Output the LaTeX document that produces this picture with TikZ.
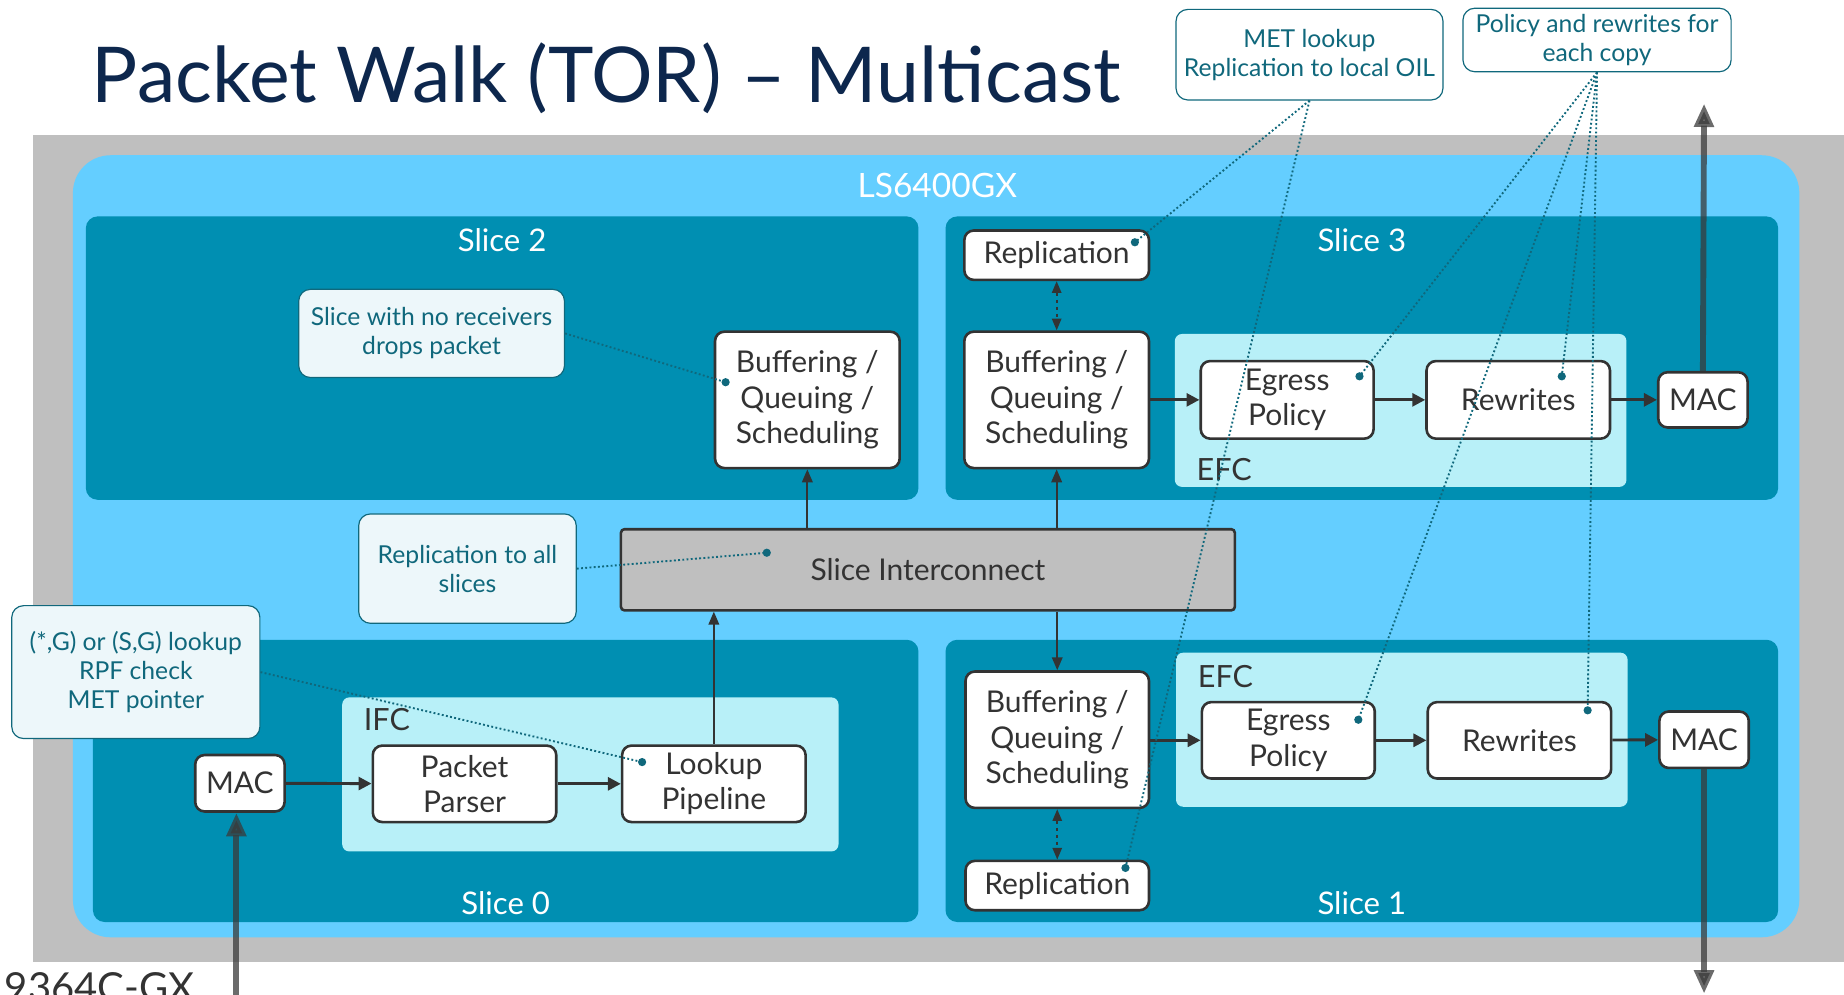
\documentclass[tikz,border=0pt]{standalone}
\usepackage{fontspec}
\setmainfont{Lato}
\usetikzlibrary{arrows.meta, positioning, calc}
\definecolor{grisfond}{RGB}{191,191,191}
\definecolor{ciel}{RGB}{100,206,255}
\definecolor{sarcelle}{RGB}{0,143,178}
\definecolor{cyanclair}{RGB}{184,240,248}
\definecolor{trait}{RGB}{51,51,51}
\definecolor{notetxt}{RGB}{16,104,124}
\definecolor{notefond}{RGB}{237,247,250}
\definecolor{titre}{RGB}{13,39,77}
\definecolor{grosse}{RGB}{58,58,58}

\begin{document}
\begin{tikzpicture}[x=1pt, y=-1pt,
  bloc/.style={draw=trait, line width=2.2pt, fill=white, rounded corners=8pt, text=trait,
    align=center, inner sep=0pt, font=\fontsize{25.5}{30}\selectfont},
  bulle/.style={draw=notetxt, line width=1pt, fill=notefond, rounded corners=10pt, text=notetxt,
    align=center, inner sep=0pt, font=\fontsize{21}{24.5}\selectfont},
  fleche/.style={draw=trait, line width=2.5pt, -{Triangle[length=11pt,width=11pt]}},
  fine/.style={draw=trait, line width=1.5pt, -{Triangle[length=11pt,width=9pt]}},
  double/.style={draw=trait, line width=1.5pt, dashed, {Triangle[length=10pt,width=8pt]}-{Triangle[length=10pt,width=8pt]}},
  grosse/.style={draw=grosse, opacity=0.75, line width=5pt, -{Triangle[length=20pt,width=16pt]}},
  pointille/.style={draw=notetxt, dotted, line width=1.6pt},
  etiquette/.style={text=white, font=\fontsize{26.5}{30}\selectfont},
  zone/.style={text=trait, font=\fontsize{26}{30}\selectfont}]
\useasboundingbox (0,0) rectangle (1568,846);

% fond
\fill[grisfond] (28,115) rectangle (1568,818);
\fill[ciel, rounded corners=32pt] (62,132) rectangle (1530,797);
\node[etiquette, font=\fontsize{28.5}{32}\selectfont] (puce) at (797,158) {LS6400GX};

% tranches
\fill[sarcelle, rounded corners=10pt] (73,184) rectangle (781,425);
\fill[sarcelle, rounded corners=10pt] (804,184) rectangle (1512,425);
\fill[sarcelle, rounded corners=10pt] (79,544) rectangle (781,784);
\fill[sarcelle, rounded corners=10pt] (804,544) rectangle (1512,784);
\node[etiquette] (tr2) at (427,204) {Slice 2};
\node[etiquette] (tr3) at (1158,204) {Slice 3};
\node[etiquette] (tr0) at (430,768) {Slice 0};
\node[etiquette] (tr1) at (1158,768) {Slice 1};

% IFC / EFC
\fill[cyanclair, rounded corners=6pt] (291,593) rectangle (713,724);
\fill[cyanclair, rounded corners=6pt] (999,284) rectangle (1383,414);
\fill[cyanclair, rounded corners=6pt] (1000,555) rectangle (1384,686);
\node[zone] (ifc) at (329,612) {IFC};
\node[zone] (efchaut) at (1041,399) {EFC};
\node[zone] (efcbas) at (1042,575) {EFC};

% titre
\node[anchor=base west, text=titre, font=\fontsize{65.5}{80}\selectfont, inner sep=0pt] (titre) at (78,87) {Packet Walk (TOR) -- Multicast};
\node[anchor=west, text=trait, font=\fontsize{34}{40}\selectfont, inner sep=0pt] (modele) at (4,839) {9364C-GX};

% blocs
\node[bloc, minimum width=157pt, minimum height=116pt] (bqs2) at (686.5,340) {Buffering /\\Queuing /\\Scheduling};
\node[bloc, minimum width=157pt, minimum height=42pt] (rep3) at (898.5,217) {Replication};
\node[bloc, minimum width=157pt, minimum height=116pt] (bqs3) at (898.5,340) {Buffering /\\Queuing /\\Scheduling};
\node[bloc, minimum width=147pt, minimum height=66pt] (egr3) at (1094.5,340) {Egress\\Policy};
\node[bloc, minimum width=156pt, minimum height=66pt] (rew3) at (1291,340) {Rewrites};
\node[bloc, minimum width=76pt, minimum height=47pt] (mac3) at (1448,340) {MAC};
\node[bloc, minimum width=156pt, minimum height=116pt] (bqs1) at (899,629) {Buffering /\\Queuing /\\Scheduling};
\node[bloc, minimum width=156pt, minimum height=42pt] (rep1) at (899,753) {Replication};
\node[bloc, minimum width=147pt, minimum height=65pt] (egr1) at (1095.5,629.5) {Egress\\Policy};
\node[bloc, minimum width=156pt, minimum height=65pt] (rew1) at (1292,629.5) {Rewrites};
\node[bloc, minimum width=76pt, minimum height=48pt] (mac1) at (1449,629) {MAC};
\node[bloc, minimum width=76pt, minimum height=48pt] (mac0) at (204,666) {MAC};
\node[bloc, minimum width=156pt, minimum height=65pt] (parser) at (395,666.5) {Packet\\Parser};
\node[bloc, minimum width=156pt, minimum height=65pt] (lookup) at (607,666.5) {Lookup\\Pipeline};
\node[bloc, fill=grisfond, rounded corners=3pt, minimum width=522pt, minimum height=69pt] (inter) at (789,484.5) {Slice Interconnect};

% fleches
\coordinate (entree) at (201,850);
\coordinate (sortiehaut) at (1449,88);
\coordinate (sortiebas) at (1449,845);
\draw[grosse] (entree) -- (entree |- mac0.south);
\draw[grosse] (mac3.north) -- (sortiehaut);
\draw[grosse] (mac1.south) -- (sortiebas);
\draw[fleche] (mac0) -- (parser);
\draw[fleche] (parser) -- (lookup);
\draw[fleche] (bqs3) -- (egr3);
\draw[fleche] (egr3) -- (rew3);
\draw[fleche] (rew3) -- (mac3);
\draw[fleche] ($(bqs1.east)+(0,0.5)$) -- (egr1.west);
\draw[fleche] (egr1) -- (rew1);
\draw[fleche] (rew1) -- (mac1);
\draw[fine] (lookup.north) -- (lookup.north |- inter.south);
\draw[fine] (inter.north -| bqs2.south) -- (bqs2.south);
\draw[fine] (inter.north -| bqs3.south) -- (bqs3.south);
\draw[fine] (inter.south -| bqs1.north) -- (bqs1.north);
\draw[double] (rep3.south) -- (bqs3.north);
\draw[double] (bqs1.south) -- (rep1.north);

% bulles
\node[bulle, fill=white, minimum width=227pt, minimum height=77pt] (metnote) at (1113.5,46.5) {MET lookup\\Replication to local OIL};
\node[bulle, fill=white, minimum width=228pt, minimum height=54pt] (polnote) at (1358,34) {Policy and rewrites for\\each copy};
\node[bulle, minimum width=226pt, minimum height=75pt] (videnote) at (367,283.5) {Slice with no receivers\\drops packet};
\node[bulle, minimum width=185pt, minimum height=93pt] (repnote) at (397.5,483.5) {Replication to all\\slices};
\node[bulle, minimum width=211pt, minimum height=113pt] (sgnote) at (115.5,571.5) {(*,G) or (S,G) lookup\\RPF check\\MET pointer};

% pointilles
\coordinate (rep3pt) at (965,206);
\coordinate (rep1pt) at (957,738);
\coordinate (egr3pt) at (1156,320);
\coordinate (rew3pt) at (1328,320);
\coordinate (egr1pt) at (1155,612);
\coordinate (rew1pt) at (1350,604);
\coordinate (bqs2pt) at (617,325);
\coordinate (interpt) at (652,470);
\coordinate (lookpt) at (546,648);
\draw[pointille] (metnote.south) -- (rep3pt);
\draw[pointille] (metnote.south) -- (rep1pt);
\foreach \cible in {egr3pt, rew3pt, egr1pt, rew1pt}
  \draw[pointille] (polnote.south) -- (\cible);
\draw[pointille] (videnote.east) -- (bqs2pt);
\draw[pointille] (repnote.east) -- (interpt);
\draw[pointille] (sgnote.east) -- (lookpt);
\foreach \cible in {rep3pt, rep1pt, egr3pt, rew3pt, egr1pt, rew1pt, bqs2pt, interpt, lookpt}
  \fill[notetxt] (\cible) circle (3.5pt);
\end{tikzpicture}
\end{document}
